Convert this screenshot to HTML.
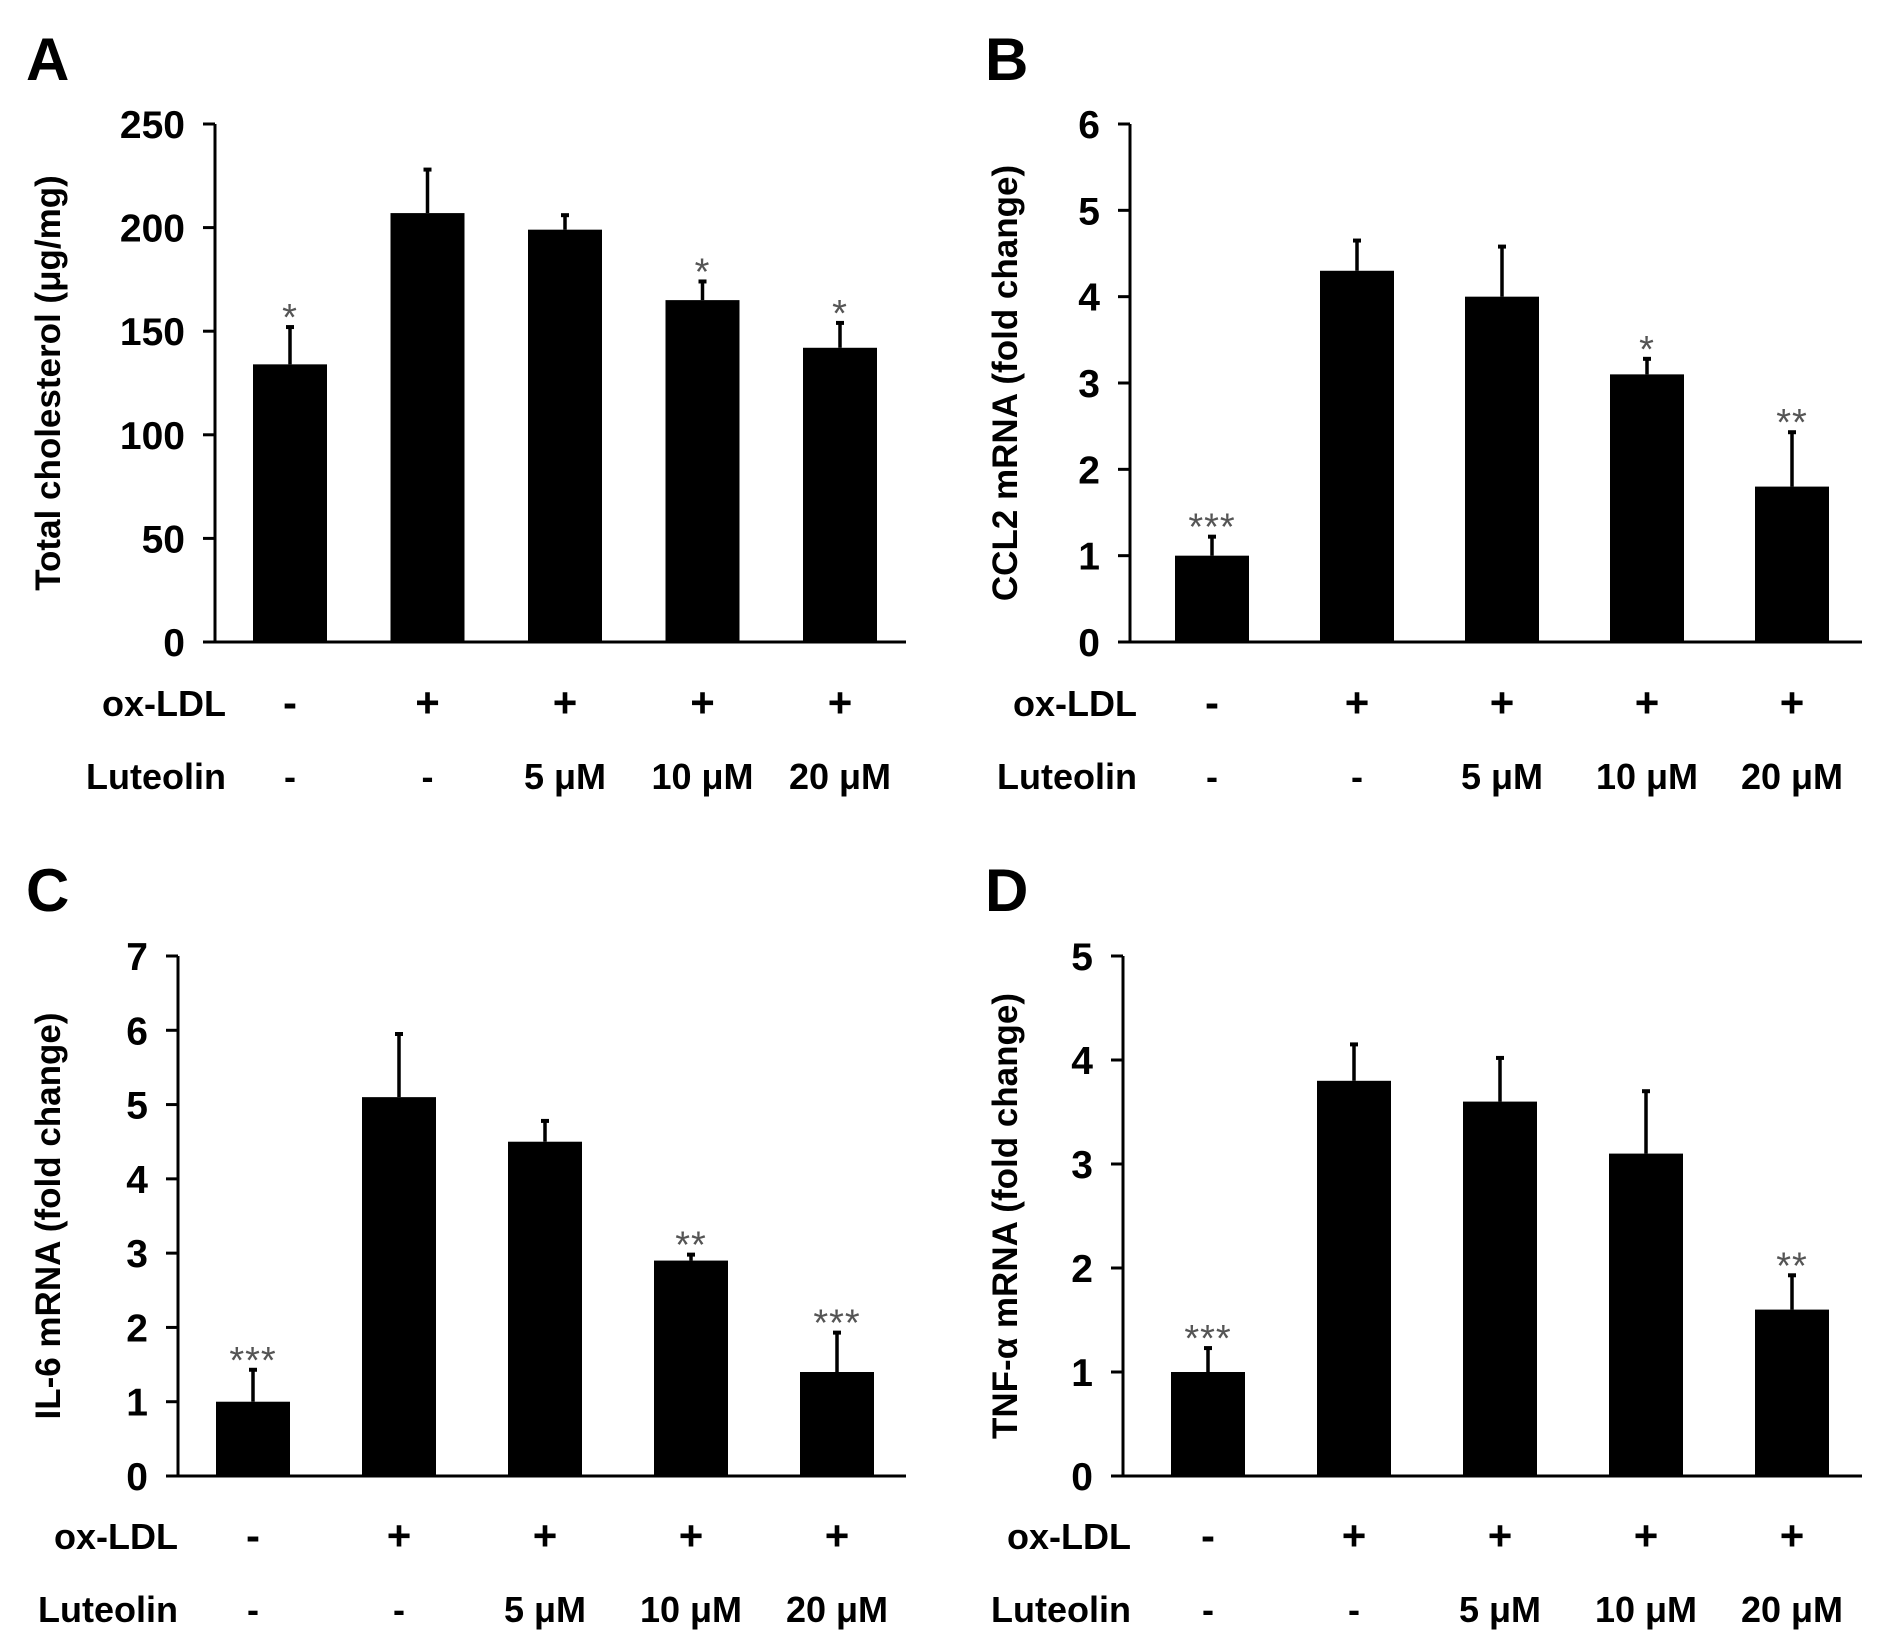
<!DOCTYPE html>
<html><head><meta charset="utf-8"><style>
html,body{margin:0;padding:0;background:#fff;}
svg{display:block;}
text{font-family:"Liberation Sans",Arial,sans-serif;}
</style></head><body>
<svg id="fig" width="1890" height="1651" viewBox="0 0 1890 1651" xmlns="http://www.w3.org/2000/svg"></svg>
<script>
// Panel A
const aValues = [134, 207, 199, 165, 142];
const aErrTop = [152, 228, 206, 174, 154];
const aTicks = [0, 50, 100, 150, 200, 250];
const aStars = ['*', '', '', '*', '*'];
// Panel B
const bValues = [1.0, 4.3, 4.0, 3.1, 1.8];
const bErrTop = [1.22, 4.65, 4.58, 3.28, 2.43];
const bTicks = [0, 1, 2, 3, 4, 5, 6];
const bStars = ['***', '', '', '*', '**'];
// Panel C
const cValues = [1.0, 5.1, 4.5, 2.9, 1.4];
const cErrTop = [1.43, 5.95, 4.78, 2.98, 1.93];
const cTicks = [0, 1, 2, 3, 4, 5, 6, 7];
const cStars = ['***', '', '', '**', '***'];
// Panel D
const dValues = [1.0, 3.8, 3.6, 3.1, 1.6];
const dErrTop = [1.23, 4.15, 4.02, 3.7, 1.93];
const dTicks = [0, 1, 2, 3, 4, 5];
const dStars = ['***', '', '', '', '**'];
// Shared categories
const oxLDL = ['-', '+', '+', '+', '+'];
const luteolin = ['-', '-', '5 μM', '10 μM', '20 μM'];

const NS = 'http://www.w3.org/2000/svg';
const svg = document.getElementById('fig');
function mk(tag, attrs, parent) {
  const e = document.createElementNS(NS, tag);
  for (const k in attrs) e.setAttribute(k, attrs[k]);
  (parent || svg).appendChild(e);
  return e;
}
function txt(s, attrs, parent) { const t = mk('text', attrs, parent); t.textContent = s; return t; }

function panel(cfg) {
  const g = mk('g', {});
  
  
  const maxV = cfg.ticks[cfg.ticks.length - 1];
  const y = v => cfg.y0 - (v / maxV) * (cfg.y0 - cfg.yTop);
  const x = i => cfg.c0 + i * cfg.step;
  const bw = 74;
  const L = txt(cfg.letter, {x: cfg.lx, y: cfg.ly, 'font-size': 60, 'font-weight': 'bold'}, g);
  
  
  const ya = mk('line', {x1: cfg.ax, y1: cfg.yTop, x2: cfg.ax, y2: cfg.y0, stroke: '#000', 'stroke-width': 3}, g);
  
  
  const xa = mk('line', {x1: cfg.ax - 12, y1: cfg.y0, x2: cfg.xEnd, y2: cfg.y0, stroke: '#000', 'stroke-width': 3}, g);
  
  
  cfg.ticks.forEach(t => {
    mk('line', {x1: cfg.ax - 12, y1: y(t), x2: cfg.ax, y2: y(t), stroke: '#000', 'stroke-width': 3}, g);
    const tl = txt(String(t), {x: cfg.ax - 30, y: y(t) + 14, 'font-size': 39, 'font-weight': 'bold', 'text-anchor': 'end'}, g);
    
    
  });
  const yt = txt(cfg.title, {x: 0, y: 0, 'font-size': 35, 'font-weight': 'bold', 'text-anchor': 'middle',
    transform: `translate(${cfg.tx},${(cfg.yTop + cfg.y0) / 2}) rotate(-90)`}, g);
  
  
  cfg.values.forEach((v, i) => {
    const cx = x(i);
    const eb = mk('line', {x1: cx, y1: y(v), x2: cx, y2: y(cfg.err[i]), stroke: '#000', 'stroke-width': 3.5}, g);
    
    
    mk('line', {x1: cx - 4, y1: y(cfg.err[i]), x2: cx + 4, y2: y(cfg.err[i]), stroke: '#000', 'stroke-width': 4}, g);
    const r = mk('rect', {x: cx - bw / 2, y: y(v), width: bw, height: cfg.y0 - y(v), fill: '#000'}, g);
    
    
    if (cfg.stars[i]) {
      const s = txt(cfg.stars[i], {x: cx, y: y(cfg.err[i]) + 3, 'font-size': 38, fill: '#555', 'text-anchor': 'middle', 'letter-spacing': 1}, g);
      
      
    }
    const o = txt(oxLDL[i], {x: cx, y: cfg.r1 + 14, 'font-size': 42, 'font-weight': 'bold', 'text-anchor': 'middle'}, g);
    
    
    const lu = txt(luteolin[i], {x: cx, y: cfg.r2 + 13, 'font-size': 36, 'font-weight': 'bold', 'text-anchor': 'middle'}, g);
    
    
  });
  const r1 = txt('ox-LDL', {x: cfg.rowEnd, y: cfg.r1 + 13, 'font-size': 36, 'font-weight': 'bold', 'text-anchor': 'end'}, g);
  
  
  const r2 = txt('Luteolin', {x: cfg.rowEnd, y: cfg.r2 + 13, 'font-size': 36, 'font-weight': 'bold', 'text-anchor': 'end'}, g);
  
  
}

panel({letter: 'A', lx: 26, ly: 80, ax: 215, xEnd: 906, yTop: 124, y0: 642, c0: 290, step: 137.5,
  values: aValues, err: aErrTop, ticks: aTicks, stars: aStars, title: 'Total cholesterol (μg/mg)', tx: 60,
  r1: 703, r2: 776, rowEnd: 226});
panel({letter: 'B', lx: 985, ly: 80, ax: 1130, xEnd: 1862, yTop: 124, y0: 642, c0: 1212, step: 145,
  values: bValues, err: bErrTop, ticks: bTicks, stars: bStars, title: 'CCL2 mRNA (fold change)', tx: 1017,
  r1: 703, r2: 776, rowEnd: 1137});
panel({letter: 'C', lx: 26, ly: 911, ax: 178, xEnd: 906, yTop: 956, y0: 1476, c0: 253, step: 146,
  values: cValues, err: cErrTop, ticks: cTicks, stars: cStars, title: 'IL-6 mRNA (fold change)', tx: 60,
  r1: 1536, r2: 1609, rowEnd: 178});
panel({letter: 'D', lx: 985, ly: 911, ax: 1123, xEnd: 1862, yTop: 956, y0: 1476, c0: 1208, step: 146,
  values: dValues, err: dErrTop, ticks: dTicks, stars: dStars, title: 'TNF-α  mRNA (fold change)', tx: 1017,
  r1: 1536, r2: 1609, rowEnd: 1131});
</script>
</body></html>
